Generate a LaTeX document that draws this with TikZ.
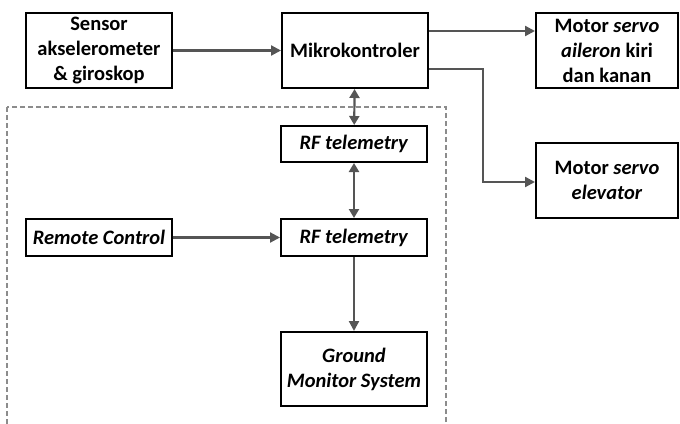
\documentclass[tikz,border=0pt]{standalone}
\usepackage{fontspec}
\setmainfont{Carlito}
\usetikzlibrary{arrows.meta}
\definecolor{ln}{HTML}{555555}
\definecolor{dsh}{HTML}{8C8C8C}
\tikzset{
  blk/.style={draw=black, line width=2pt, align=center, font=\fontsize{20.5}{25}\selectfont\bfseries, inner sep=1pt},
  conn/.style={draw=ln, line width=2.2pt, -{Triangle[length=10pt,width=10pt]}},
  bconn/.style={draw=ln, line width=2.2pt, {Triangle[length=9pt,width=10pt]}-{Triangle[length=9pt,width=10pt]}},
}
\begin{document}
\begin{tikzpicture}[x=1pt,y=-1pt]
\useasboundingbox (0,0) rectangle (680,423);
\draw[dsh, line width=1.5pt, dash pattern=on 5pt off 3pt] (7,107) rectangle (446,425);
\node[blk, minimum width=146pt, minimum height=75pt] (sen) at (99,50.5) {Sensor\\akselerometer\\\& giroskop};
\node[blk, minimum width=146pt, minimum height=75pt] (mik) at (355,50.5) {Mikrokontroler};
\node[blk, minimum width=142pt, minimum height=75pt] (ail) at (607,50.5) {Motor \textit{servo}\\\textit{aileron} kiri\\dan kanan};
\node[blk, minimum width=142pt, minimum height=75pt] (ele) at (607,180.5) {Motor \textit{servo}\\\textit{elevator}};
\node[blk, minimum width=146pt, minimum height=36pt] (rf1) at (354,144) {\textit{RF telemetry}};
\node[blk, minimum width=146pt, minimum height=37pt] (rf2) at (354,237.5) {\textit{RF telemetry}};
\node[blk, minimum width=146pt, minimum height=37pt] (rc) at (99,237.5) {\textit{Remote Control}};
\node[blk, minimum width=146pt, minimum height=74pt] (gms) at (354,369) {\textit{Ground}\\\textit{Monitor System}};
\draw[conn] (sen) -- (mik);
\draw[conn] (mik.east |- 0,31) -- (ail.west |- 0,31);
\draw[conn] (mik.east |- 0,69) -| (483,182) -- (ele.west |- 0,182);
\draw[bconn] (mik) -- (rf1);
\draw[bconn] (rf1) -- (rf2);
\draw[conn] (rc) -- (rf2);
\draw[conn] (rf2) -- (gms);
\end{tikzpicture}
\end{document}
